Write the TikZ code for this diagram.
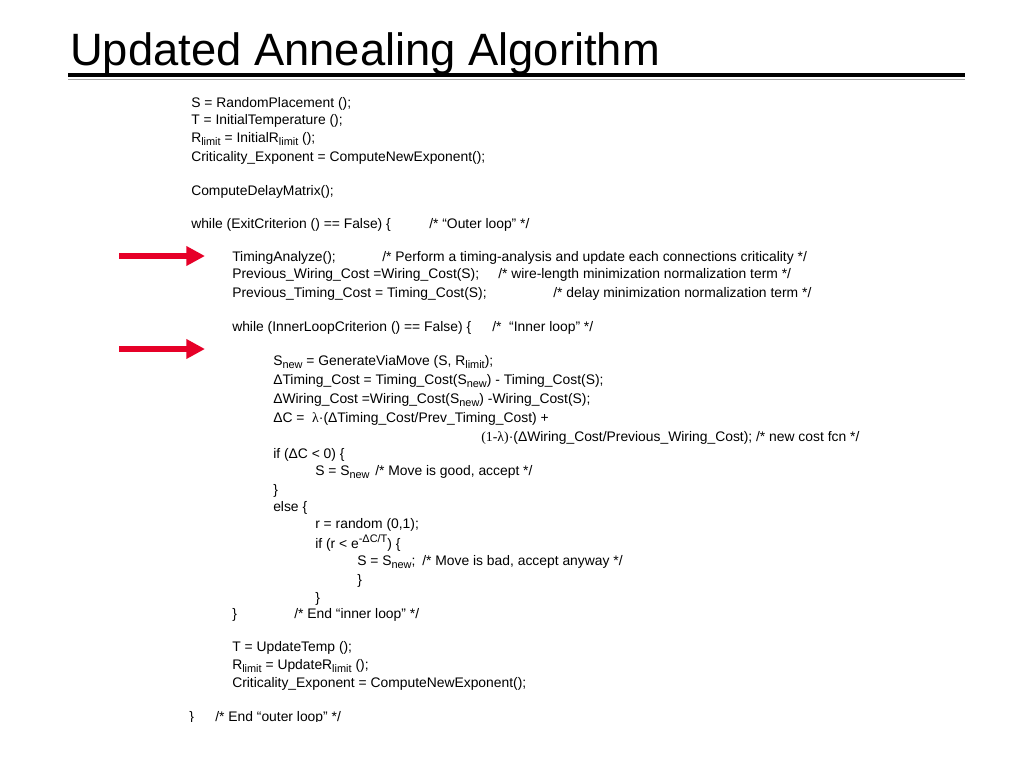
\documentclass[tikz,border=0pt]{standalone}
\usepackage{fontspec}
\setmainfont{Liberation Sans}
\newfontfamily\serifgr{Liberation Serif}
\usetikzlibrary{arrows.meta}
\definecolor{arrowred}{RGB}{230,0,40}
\newcommand\subx[1]{\raisebox{-0.45ex}{\fontsize{8.2}{8.2}\selectfont #1}}
\newcommand\supx[1]{\raisebox{0.8ex}{\fontsize{8.2}{8.2}\selectfont #1}}
\newcommand\lam{{\serifgr λ}}
\begin{document}
\begin{tikzpicture}[x=0.75pt,y=-0.75pt,
  code/.style={anchor=base west,inner sep=0pt,font=\fontsize{10.4}{12}\selectfont},
  ttl/.style={anchor=base west,inner sep=0pt,font=\fontsize{34}{40}\selectfont},
  redarrow/.style={draw=arrowred,line width=4.5pt,-{Triangle[length=14pt,width=14pt]}}]
\useasboundingbox (0,0) rectangle (1024,768);
\fill[white] (0,0) rectangle (1024,768);
% title
\node[ttl] (title) at (70,65) {Updated Annealing Algorithm};
\coordinate (ulA) at (68,75);
\coordinate (ulB) at (965,75);
\coordinate (ugA) at (68,79.5);
\coordinate (ugB) at (965,79.5);
\draw[line width=3pt,black] (ulA) -- (ulB);
\draw[line width=1.3pt,black!35] (ugA) -- (ugB);
% code
\node[code] (l1) at (191,107) {S = RandomPlacement ();};
\node[code] (l2) at (191,124) {T = InitialTemperature ();};
\node[code] (l3) at (191,142) {R\subx{limit} = InitialR\subx{limit} ();};
\node[code] (l4) at (191,161) {Criticality\_Exponent = ComputeNewExponent();};
\node[code] (l5) at (191,195) {ComputeDelayMatrix();};
\node[code] (l6) at (191,228) {while (ExitCriterion () == False) \{};
\node[code] (c6) at (429,228) {/* “Outer loop” */};
\node[code] (l7) at (232,261) {TimingAnalyze();};
\node[code] (c7) at (382,261) {/* Perform a timing-analysis and update each connections criticality */};
\node[code] (l8) at (232,278) {Previous\_Wiring\_Cost =Wiring\_Cost(S);};
\node[code] (c8) at (498,278) {/* wire-length minimization normalization term */};
\node[code] (l9) at (232,297) {Previous\_Timing\_Cost = Timing\_Cost(S);};
\node[code] (c9) at (553,297) {/* delay minimization normalization term */};
\node[code] (l10) at (232,331) {while (InnerLoopCriterion () == False) \{};
\node[code] (c10) at (492,331) {/*\ \ “Inner loop” */};
\node[code] (l11) at (273,365) {S\subx{new} = GenerateViaMove (S, R\subx{limit});};
\node[code] (l12) at (273,384) {ΔTiming\_Cost = Timing\_Cost(S\subx{new}) - Timing\_Cost(S);};
\node[code] (l13) at (273,403) {ΔWiring\_Cost =Wiring\_Cost(S\subx{new}) -Wiring\_Cost(S);};
\node[code] (l14) at (273,422) {ΔC =\ \ \lam·(ΔTiming\_Cost/Prev\_Timing\_Cost) +};
\node[code] (l15) at (481,441) {{\serifgr (1-λ)}·(ΔWiring\_Cost/Previous\_Wiring\_Cost); /* new cost fcn */};
\node[code] (l16) at (273,458) {if (ΔC < 0) \{};
\node[code] (l17) at (315,475) {S = S\subx{new}};
\node[code] (c17) at (375,475) {/* Move is good, accept */};
\node[code] (l18) at (273,494) {\}};
\node[code] (l19) at (273,511) {else \{};
\node[code] (l20) at (315,528) {r = random (0,1);};
\node[code] (l21) at (315,548) {if (r < e\supx{-ΔC/T}) \{};
\node[code] (l22) at (357,565) {S = S\subx{new};};
\node[code] (c22) at (422,565) {/* Move is bad, accept anyway */};
\node[code] (l23) at (357,584) {\}};
\node[code] (l24) at (315,602) {\}};
\node[code] (l25) at (232,618) {\}};
\node[code] (c25) at (294,618) {/* End “inner loop” */};
\node[code] (l26) at (232,651) {T = UpdateTemp ();};
\node[code] (l27) at (232,669) {R\subx{limit} = UpdateR\subx{limit} ();};
\node[code] (l28) at (232,687) {Criticality\_Exponent = ComputeNewExponent();};
\begin{scope}
\clip (0,0) rectangle (1024,721);
\node[code] (l29) at (189,721) {\}};
\node[code] (c29) at (215,721) {/* End “outer loop” */};
\end{scope}
% arrows
\coordinate (a1s) at (119,256);
\coordinate (a1e) at (205,256);
\coordinate (a2s) at (119,349);
\coordinate (a2e) at (205,349);
\draw[redarrow] (a1s) -- (a1e);
\draw[redarrow] (a2s) -- (a2e);
\end{tikzpicture}
\end{document}
